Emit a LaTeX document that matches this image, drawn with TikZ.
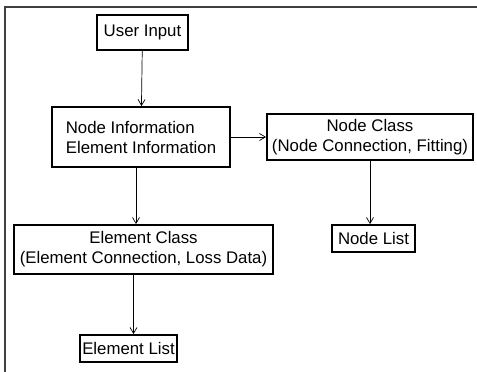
\documentclass[tikz,border=0pt]{standalone}
\usepackage{fontspec}
\setmainfont{Liberation Sans}
\usepackage{tikz}
\usetikzlibrary{arrows.meta,positioning,calc}

\begin{document}
\begin{tikzpicture}[
      x=1pt, y=-1pt,
      >={Straight Barb[length=6pt,width=7pt]},
      block/.style={rectangle, draw, line width=1.8pt, inner sep=1pt,
        align=center, font=\fontsize{16.8}{20}\selectfont},
      flow/.style={->, line width=0.7pt},
  ]
      \useasboundingbox (0,0) rectangle (477,372);

      % Rahmen (nur oben und links)
      \draw[line width=1.3pt, black!75] (5,372) -- (5,7) -- (477,7);

      % Bloecke
      \node[block, minimum width=91, minimum height=35] (user) at (142.5,32.5) {User Input};
      \node[block, minimum width=178, minimum height=60, align=left] (info) at (141,137)
          {Node Information\\Element Information};
      \node[block, minimum width=206, minimum height=46] (nclass) at (370,137)
          {Node Class\\(Node Connection, Fitting)};
      \node[block, minimum width=83, minimum height=27] (nlist) at (373.5,238.5) {Node List};
      \node[block, minimum width=259, minimum height=49] (eclass) at (143.5,249.5)
          {Element Class\\(Element Connection, Loss Data)};
      \node[block, minimum width=97, minimum height=27] (elist) at (128.5,348.5) {Element List};

      % Ansatzpunkte der senkrechten Pfeile
      \coordinate (infoout) at ($(info.south)+(-5,0)$);
      \coordinate (eclassout) at ($(eclass.south)+(-10,0)$);

      % Pfeile
      \draw[flow] (user) -- (info);
      \draw[flow] (info.east) -- (nclass.west);
      \draw[flow] (nclass.south) -- (nclass.south |- nlist.north);
      \draw[flow] (infoout) -- (infoout |- eclass.north);
      \draw[flow] (eclassout) -- (eclassout |- elist.north);

  \end{tikzpicture}
\end{document}
